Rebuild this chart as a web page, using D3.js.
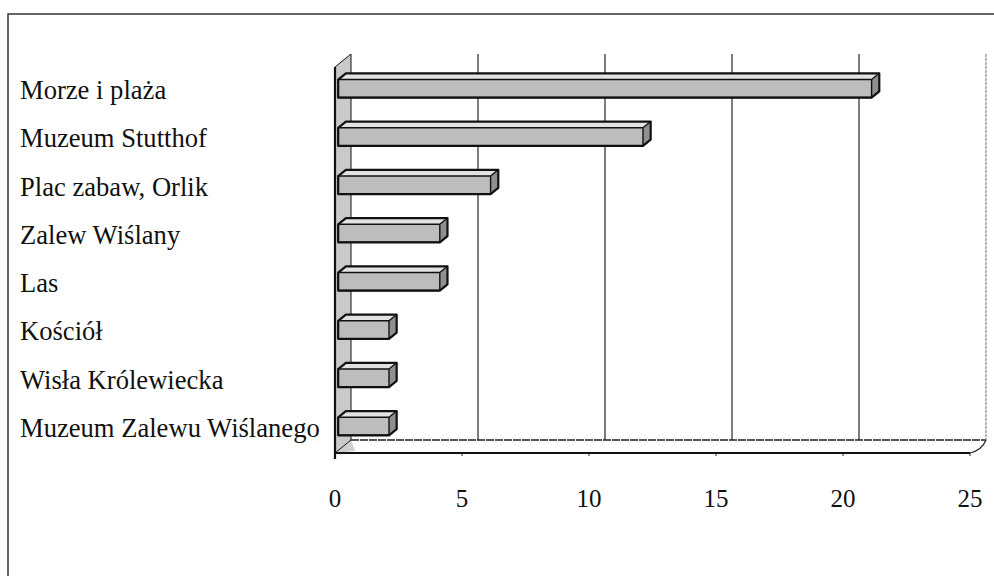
<!DOCTYPE html>
<html>
<head>
<meta charset="utf-8">
<script src="https://cdn.jsdelivr.net/npm/d3@7"></script>
<style>
  html, body { margin: 0; padding: 0; background: #fff; }
  svg { display: block; }
  text { font-family: "Liberation Serif", "Times New Roman", serif; fill: #111; }
</style>
</head>
<body>
<svg id="chart" width="994" height="576"></svg>
<script>
/* Atrakcje - 3D poziomy wykres słupkowy */
const categories = ['Morze i plaża', 'Muzeum Stutthof', 'Plac zabaw, Orlik', 'Zalew Wiślany', 'Las', 'Kościół', 'Wisła Królewiecka', 'Muzeum Zalewu Wiślanego'];
const values = [21, 12, 6, 4, 4, 2, 2, 2];
const ticks = [0, 5, 10, 15, 20, 25];

const svg = d3.select('#chart');
const W = 994, H = 576;

// depth of the 3D box (front plane -> back wall)
const DX = 16, DY = -13;
const x = d3.scaleLinear().domain([0, 25]).range([335, 970]);
const y = d3.scaleBand().domain(categories).range([67, 453]);
const floorY = 453, topY = 67;

// point on plane at depth t (0 = front, 1 = back wall)
const P = (v, yy, t) => [x(v) + DX * t, yy + DY * t];
const poly = pts => 'M' + pts.map(p => p.join(',')).join('L') + 'Z';

// outer frame
svg.append('rect').attr('x', 8).attr('y', 14).attr('width', W).attr('height', H)
    .attr('fill', 'none').attr('stroke', '#333').attr('stroke-width', 1.5);

// floor
svg.append('path')
    .attr('d', poly([P(0, floorY, 0), P(0.7, floorY, 0.15), P(0, floorY, 1)]))
    .attr('fill', '#cfcfcf');
svg.append('line')
    .attr('x1', P(0, floorY, 1)[0]).attr('y1', P(0, floorY, 1)[1])
    .attr('x2', P(25, floorY, 1)[0]).attr('y2', P(25, floorY, 1)[1])
    .attr('stroke', '#222').attr('stroke-width', 1.5).attr('stroke-dasharray', '8,1');
svg.append('path')
    .attr('d', 'M' + P(25, floorY, 0).join(',') + 'Q' + (x(25) + 12) + ',' + (floorY - 3) + ' ' + P(25, floorY, 1).join(','))
    .attr('fill', 'none').attr('stroke', '#222').attr('stroke-width', 1.2);
svg.append('line')
    .attr('x1', x(0)).attr('y1', floorY).attr('x2', x(25)).attr('y2', floorY)
    .attr('stroke', '#111').attr('stroke-width', 2.2);

// ticks on front floor edge
svg.append('g').selectAll('line').data(ticks).enter().append('line')
    .attr('x1', d => x(d)).attr('x2', d => x(d))
    .attr('y1', floorY).attr('y2', d => floorY + (d === 0 ? 6 : 3))
    .attr('stroke', '#222').attr('stroke-width', 1);

// gridlines on back wall
svg.append('g').selectAll('line').data(ticks.slice(1)).enter().append('line')
    .attr('x1', d => P(d, topY, 1)[0]).attr('x2', d => P(d, floorY, 1)[0])
    .attr('y1', P(0, topY, 1)[1]).attr('y2', P(0, floorY, 1)[1])
    .attr('stroke', d => d === 25 ? '#777' : '#111')
    .attr('stroke-width', 1.1)
    .attr('stroke-dasharray', d => d === 25 ? '3,1' : null);

// left side wall
svg.append('path')
    .attr('d', poly([P(0, topY, 0), P(0, topY, 1), P(0, floorY, 1), P(0, floorY, 0)]))
    .attr('fill', '#c9c9c9').attr('stroke', '#111').attr('stroke-width', 1);
svg.append('line')
    .attr('x1', x(0)).attr('y1', topY).attr('x2', x(0)).attr('y2', floorY + 6)
    .attr('stroke', '#111').attr('stroke-width', 2.2);

// bars
const t0 = 0.2, t1 = 0.68, bh = 18;
const bars = svg.append('g').selectAll('g').data(categories).enter().append('g');
bars.each(function (c, i) {
    const g = d3.select(this);
    const v = values[i];
    const cy = y(c) + y.bandwidth() / 2;
    const a = P(0, cy - bh / 2, t0), b = P(v, cy - bh / 2, t0);
    const bb = P(v, cy + bh / 2, t0), ab = P(0, cy + bh / 2, t0);
    const a2 = P(0, cy - bh / 2, t1), b2 = P(v, cy - bh / 2, t1), bb2 = P(v, cy + bh / 2, t1);
    g.append('path').attr('d', poly([a, b, b2, a2])).attr('fill', '#e2e2e2');
    g.append('path').attr('d', poly([b, b2, bb2, bb])).attr('fill', '#8f8f8f');
    g.append('path').attr('d', poly([a, b, bb, ab])).attr('fill', '#bdbdbd');
    g.append('path').attr('d', poly([a, a2, b2, bb2, bb, ab]))
        .attr('fill', 'none').attr('stroke', '#111').attr('stroke-width', 2.2)
        .attr('stroke-linejoin', 'round');
    g.append('path').attr('d', poly([a, b, bb, ab]) + 'M' + b.join(',') + 'L' + b2.join(','))
        .attr('fill', 'none').attr('stroke', '#111').attr('stroke-width', 1.4)
        .attr('stroke-linejoin', 'round');
});

// category labels
svg.append('g').selectAll('text').data(categories).enter().append('text')
    .attr('x', 20)
    .attr('y', d => y(d) + y.bandwidth() / 2 + 8)
    .style('font-size', '26.6px')
    .text(d => d);

// value axis labels
svg.append('g').selectAll('text').data(ticks).enter().append('text')
    .attr('x', d => x(d))
    .attr('y', 507)
    .attr('text-anchor', 'middle')
    .style('font-size', '25px')
    .text(d => d);
</script>
</body>
</html>
